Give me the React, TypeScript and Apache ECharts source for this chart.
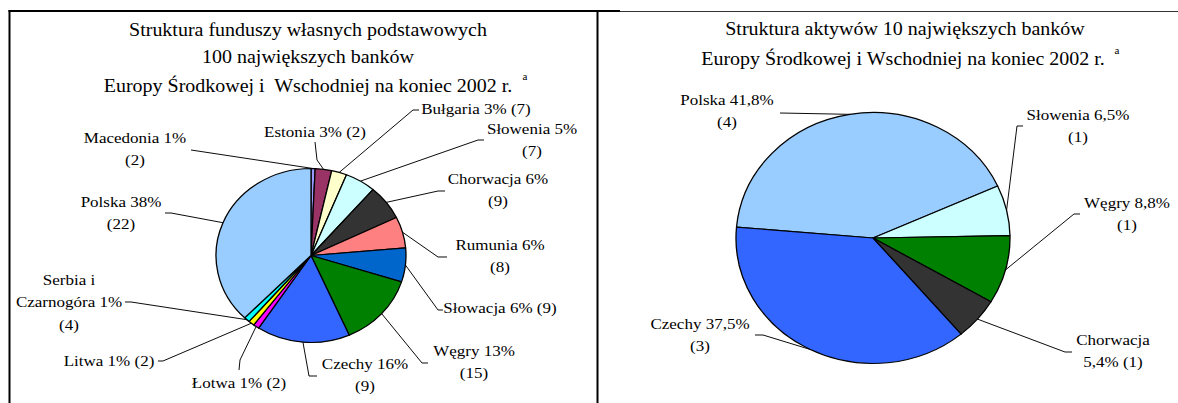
import React, { useEffect, useRef } from "react";
import * as echarts from "echarts";

// ---------- DATA ----------
const leftCountries = [
  "Macedonia", "Estonia", "Bułgaria", "Słowenia", "Chorwacja", "Rumunia",
  "Słowacja", "Węgry", "Czechy", "Łotwa", "Litwa", "Serbia i Czarnogóra", "Polska",
];
const leftShares = [0.7, 2.8, 2.6, 5.2, 6.5, 5.8, 6.3, 13.5, 15.9, 1.0, 1.0, 1.0, 37.7];
const leftLabels = [
  "Macedonia 1%\n(2)", "Estonia 3% (2)", "Bułgaria 3% (7)", "Słowenia 5%\n(7)",
  "Chorwacja 6%\n(9)", "Rumunia 6%\n(8)", "Słowacja 6% (9)", "Węgry 13%\n(15)",
  "Czechy 16%\n(9)", "Łotwa 1% (2)", "Litwa 1% (2)", "Serbia i\nCzarnogóra 1%\n(4)",
  "Polska 38%\n(22)",
];
const leftColors = [
  "#9999FF", "#993366", "#FFFFCC", "#CCFFFF", "#333333", "#FF8080",
  "#0066CC", "#008000", "#3366FF", "#FF00FF", "#FFFF00", "#00FFFF", "#99CCFF",
];

const rightCountries = ["Polska", "Słowenia", "Węgry", "Chorwacja", "Czechy"];
const rightShares = [41.8, 6.5, 8.8, 5.4, 37.5];
const rightLabels = [
  "Polska 41,8%\n(4)", "Słowenia 6,5%\n(1)", "Węgry 8,8%\n(1)", "Chorwacja\n5,4% (1)", "Czechy 37,5%\n(3)",
];
const rightColors = ["#99CCFF", "#CCFFFF", "#008000", "#333333", "#3366FF"];

const leftTitleLines = [
  "Struktura funduszy własnych podstawowych",
  "100 największych banków",
  "Europy Środkowej i  Wschodniej na koniec 2002 r.",
];
const rightTitleLines = [
  "Struktura aktywów 10 największych banków",
  "Europy Środkowej i Wschodniej na koniec 2002 r.",
];
const footnoteMark = "a";

// ---------- LAYOUT (image-space pixels) ----------
const W = 1178;
const IMG_H = 403;
const CH = 440;
const SY = IMG_H / CH;
const FONT = '"Liberation Serif", "Times New Roman", serif';

const leftCenter = [311, 255.5];
const leftRadius = 95;
const rightCenter = [873, 238];
const rightRadius = 137;

const leftLabelPos = [
  [135, 149], [315, 132], [476, 109], [532, 140], [498, 190], [500, 256], [500, 308],
  [474, 362], [365, 375], [239, 383], [109, 361], [69, 302], [121, 213],
];
const leftElbow = [
  [191, 150], [317, 160], [413, 110], [478, 140], [438, 191], [438, 257], [438, 310],
  [422, 363], [309, 376], [240, 360], [163, 361], [131, 302], [171, 213],
];
const leftEnd = [
  [191, 150], [315, 142], [419, 110], [484, 140], [445, 191], [447, 257], [443, 310],
  [428, 363], [317, 376], [239, 370], [158, 361], [125, 302], [165, 213],
];

const rightLabelPos = [[727, 111], [1078, 126], [1127, 214], [1113, 351], [700, 335]];
const rightElbow = [[780, 113], [1017, 126], [1074, 214], [1065, 352], [763, 335]];
const rightEnd = [[780, 113], [1023, 126], [1080, 214], [1072, 352], [755, 335]];

const toC = (p: number[]) => [p[0], p[1] / SY];

function edgePoint(shares: number[], i: number, center: number[], r: number, startAngle: number) {
  const total = shares.reduce((a, b) => a + b, 0);
  let cum = 0;
  for (let k = 0; k < i; k++) cum += shares[k];
  const a = ((startAngle - (360 * (cum + shares[i] / 2)) / total) * Math.PI) / 180;
  return [center[0] + r * Math.cos(a), center[1] / SY - r * Math.sin(a)];
}

function pieSeries(
  countries: string[], shares: number[], colors: string[], labels: string[],
  center: number[], radius: number, startAngle: number,
  labelPos: number[][], elbow: number[][], end: number[][],
) {
  return {
    type: "pie",
    center: [center[0], center[1] / SY],
    radius,
    startAngle,
    clockwise: true,
    avoidLabelOverlap: false,
    silent: true,
    data: countries.map((c, i) => ({ name: c, value: shares[i], itemStyle: { color: colors[i] } })),
    itemStyle: { borderColor: "#000", borderWidth: 1.3 },
    label: {
      show: true,
      position: "outside",
      formatter: (p: any) => labels[p.dataIndex],
      color: "#000",
      fontFamily: FONT,
      fontSize: 17,
      lineHeight: 24.5,
    },
    labelLine: { show: true, length: 10, length2: 10, smooth: false, lineStyle: { color: "#000", width: 1 } },
    labelLayout: (params: any) => {
      const i = params.dataIndex;
      const pts = params.labelLinePoints;
      const start = pts && pts[0] ? pts[0] : edgePoint(shares, i, center, radius, startAngle);
      return {
        x: labelPos[i][0],
        y: labelPos[i][1] / SY,
        align: "center",
        verticalAlign: "middle",
        labelLinePoints: [start, toC(elbow[i]), toC(end[i])],
      };
    },
  };
}

function titleText(text: string, x: number, y: number, size: number) {
  return {
    type: "text",
    x,
    y: y / SY,
    silent: true,
    style: { text, fill: "#000", fontFamily: FONT, fontSize: size, align: "center", verticalAlign: "middle" },
  };
}

function hLine(x1: number, x2: number, y: number, w: number, color: string) {
  return { type: "line", silent: true, shape: { x1, y1: y / SY, x2, y2: y / SY }, style: { stroke: color, lineWidth: w } };
}
function vLine(x: number, y1: number, y2: number, w: number) {
  return { type: "line", silent: true, shape: { x1: x, y1: y1 / SY, x2: x, y2: y2 / SY }, style: { stroke: "#000", lineWidth: w } };
}

export default function App() {
  const ref = useRef<HTMLDivElement>(null);
  useEffect(() => {
    if (!ref.current) return;
    const chart = echarts.init(ref.current, null, { renderer: "svg" });
    const option: any = {
      animation: false,
      backgroundColor: "#fff",
      graphic: [
        hLine(8.5, 620, 11, 2, "#000"),
        hLine(620, W, 11.5, 1.2, "#333"),
        vLine(9.5, 10, IMG_H + 5, 2),
        vLine(597.5, 10, IMG_H + 5, 2),
        titleText(leftTitleLines[0], 308, 30, 20),
        titleText(leftTitleLines[1], 308, 57, 20),
        titleText(leftTitleLines[2], 308, 86, 20),
        titleText(footnoteMark, 525, 77, 11),
        titleText(rightTitleLines[0], 905, 29, 20),
        titleText(rightTitleLines[1], 903, 59, 20),
        titleText(footnoteMark, 1117, 51, 11),
      ],
      series: [
        pieSeries(leftCountries, leftShares, leftColors, leftLabels, leftCenter, leftRadius, 90,
          leftLabelPos, leftElbow, leftEnd),
        pieSeries(rightCountries, rightShares, rightColors, rightLabels, rightCenter, rightRadius, 175,
          rightLabelPos, rightElbow, rightEnd),
      ],
    };
    chart.setOption(option);
    return () => chart.dispose();
  }, []);
  return (
    <div style={{ position: "absolute", left: 0, top: 0, width: W, height: IMG_H, overflow: "hidden", background: "#fff" }}>
      <div style={{ width: W, height: CH, transform: `scaleY(${SY})`, transformOrigin: "0 0" }}>
        <div ref={ref} style={{ width: W, height: CH }} />
      </div>
    </div>
  );
}
